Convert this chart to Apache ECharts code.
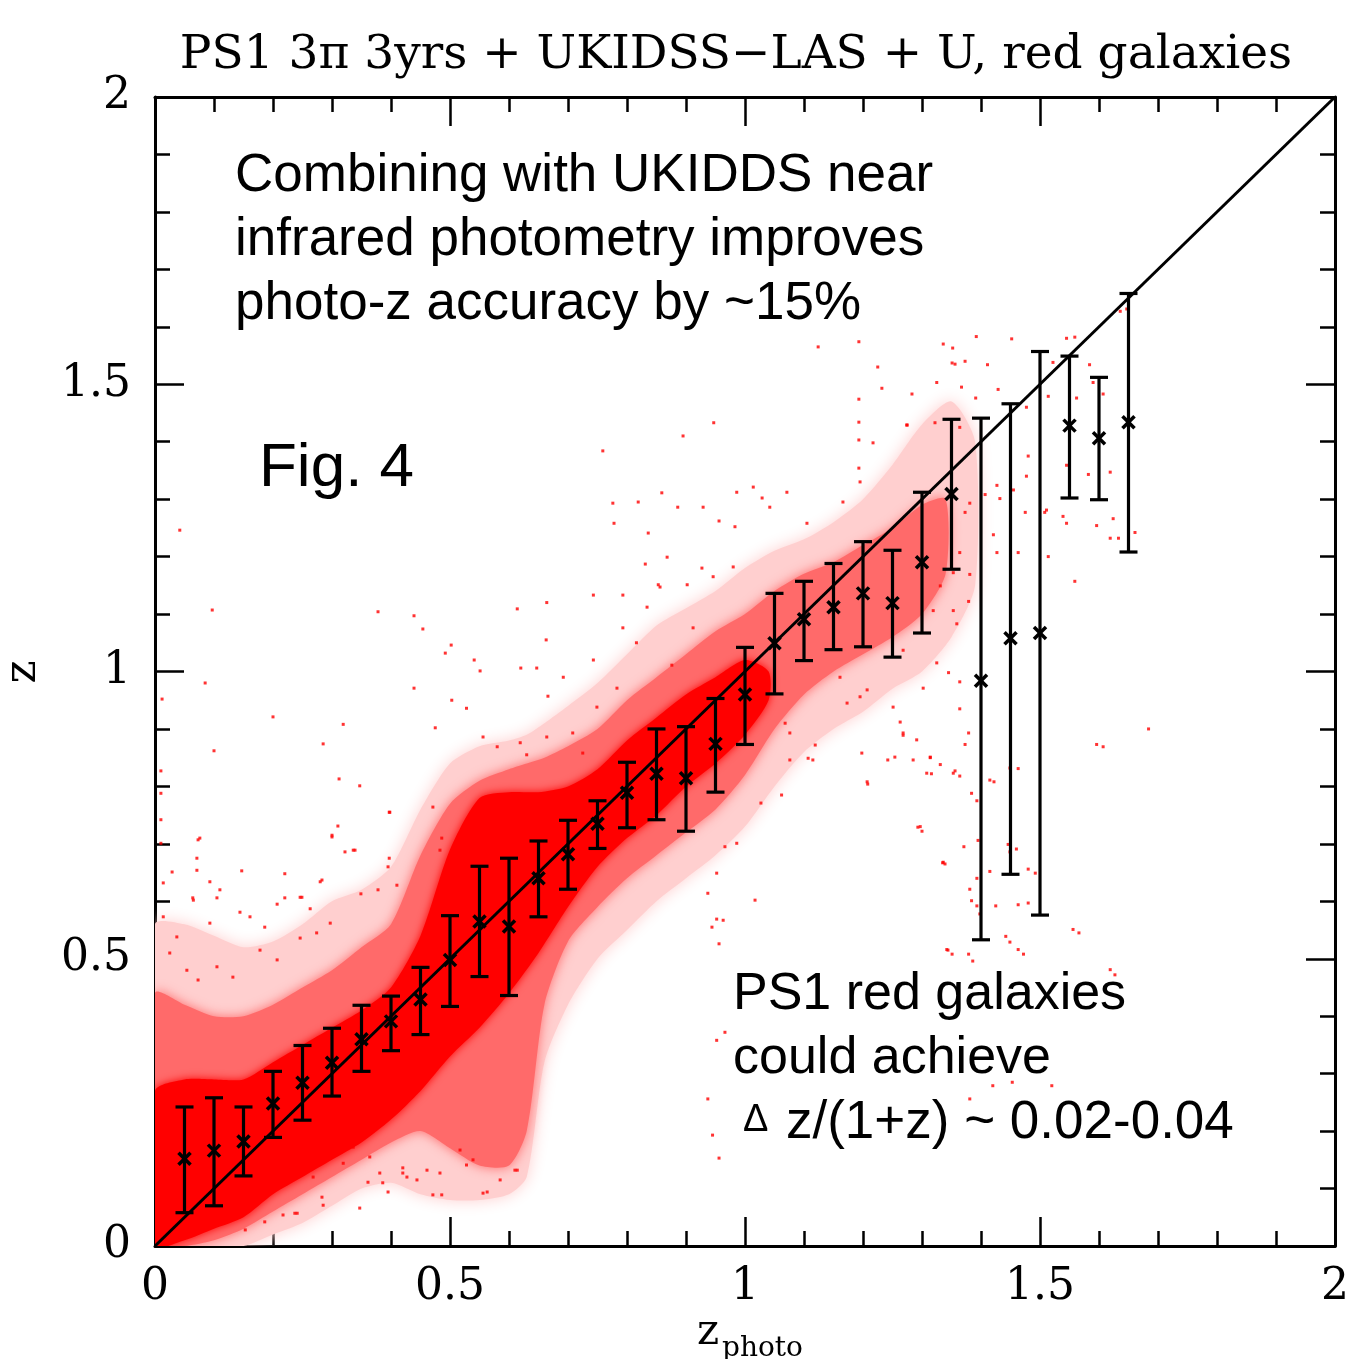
<!DOCTYPE html>
<html><head><meta charset="utf-8">
<script src="https://cdn.jsdelivr.net/npm/echarts@6/dist/echarts.min.js"></script>
<style>html,body{margin:0;padding:0;background:#fff}#c{width:1348px;height:1359px}</style>
</head><body><div id="c"></div>
<script>
// ---- data ----
const tickLabels = ['0', '0.5', '1', '1.5', '2'];

// binned means with error bars
const barX    = [0.05,0.10,0.15,0.20,0.25,0.30,0.35,0.40,0.45,0.50,0.55,0.60,0.65,0.70,0.75,0.80,0.85,0.90,0.95,1.00,1.05,1.10,1.15,1.20,1.25,1.30,1.35,1.40,1.45,1.50,1.55,1.60,1.65];
const barMean = [0.152,0.166,0.182,0.248,0.284,0.319,0.360,0.391,0.429,0.498,0.565,0.556,0.640,0.682,0.735,0.789,0.822,0.814,0.874,0.960,1.049,1.091,1.112,1.136,1.119,1.190,1.309,0.984,1.058,1.067,1.428,1.406,1.434];
const barLo   = [0.058,0.070,0.122,0.189,0.219,0.261,0.304,0.340,0.368,0.417,0.469,0.436,0.573,0.621,0.692,0.728,0.742,0.722,0.790,0.873,0.961,1.019,1.038,1.043,1.025,1.067,1.178,0.533,0.647,0.576,1.302,1.299,1.208];
const barHi   = [0.242,0.258,0.242,0.304,0.349,0.379,0.419,0.435,0.485,0.575,0.661,0.675,0.705,0.741,0.775,0.842,0.900,0.904,0.953,1.042,1.136,1.157,1.188,1.226,1.211,1.312,1.439,1.441,1.466,1.557,1.549,1.512,1.658];

// one-to-one line
const diagonal = [[0, 0], [2, 2]];

// density envelopes of the point cloud (sparse halo, medium, dense core)
const haloX  = [0,0.05,0.10,0.15,0.20,0.25,0.30,0.35,0.40,0.45,0.50,0.55,0.60,0.63,0.66,0.70,0.75,0.80,0.85,0.90,0.95,1.00,1.05,1.10,1.15,1.20,1.25,1.30,1.35,1.39];
const haloLo = [0,0,0,0,0.02,0.04,0.07,0.10,0.11,0.09,0.08,0.08,0.09,0.12,0.32,0.42,0.50,0.55,0.60,0.64,0.68,0.73,0.80,0.86,0.90,0.93,0.97,1.00,1.06,1.15];
const haloHi = [0.56,0.56,0.54,0.52,0.53,0.56,0.60,0.62,0.66,0.76,0.84,0.87,0.88,0.89,0.91,0.94,0.98,1.03,1.08,1.11,1.14,1.18,1.21,1.23,1.26,1.30,1.36,1.43,1.47,1.40];

const midX  = [0,0.05,0.10,0.15,0.20,0.25,0.30,0.35,0.40,0.45,0.50,0.55,0.60,0.63,0.66,0.70,0.75,0.80,0.85,0.90,0.95,1.00,1.05,1.10,1.15,1.20,1.25,1.30,1.34];
const midLo = [0,0,0.01,0.03,0.06,0.09,0.12,0.15,0.18,0.20,0.17,0.14,0.14,0.20,0.42,0.53,0.59,0.64,0.68,0.72,0.76,0.82,0.90,0.96,1.00,1.03,1.06,1.10,1.17];
const midHi = [0.44,0.42,0.40,0.40,0.42,0.45,0.48,0.52,0.56,0.68,0.77,0.81,0.83,0.84,0.85,0.87,0.90,0.95,0.99,1.03,1.07,1.10,1.14,1.17,1.19,1.22,1.25,1.29,1.30];

const coreX  = [0,0.05,0.10,0.15,0.20,0.25,0.30,0.35,0.40,0.45,0.50,0.55,0.60,0.65,0.70,0.75,0.80,0.85,0.90,0.95,1.00,1.04];
const coreLo = [0,0.01,0.03,0.05,0.09,0.12,0.15,0.18,0.22,0.27,0.33,0.38,0.44,0.51,0.59,0.66,0.71,0.75,0.80,0.84,0.89,0.95];
const coreHi = [0.27,0.29,0.29,0.29,0.32,0.35,0.38,0.41,0.45,0.54,0.69,0.78,0.79,0.79,0.80,0.83,0.88,0.92,0.96,0.99,1.02,1.00];

// individual scattered galaxies outside the dense cloud [z_photo, z]
const outliers = [
[0.097,1.107],[0.085,0.98],[0.012,0.952],[0.2,0.921],[0.319,0.908],[0.1,0.862],[0.285,0.874],[0.378,1.104],[0.439,1.097],[0.454,1.074],
[0.439,0.971],[0.614,1.109],[0.664,1.12],[0.502,1.046],[0.492,1.032],[0.541,1.02],[0.551,1.001],[0.62,1.006],[0.647,1.006],[0.663,1.055],
[0.666,0.957],[0.312,0.813],[0.347,0.801],[0.3,0.712],[0.31,0.731],[0.339,0.689],[0.397,0.755],[0.397,0.675],[0.073,0.707],[0.071,0.675],
[0.071,0.654],[0.029,0.651],[0.01,0.827],[0.01,0.788],[0.01,0.742],[0.01,0.701],[0.147,0.653],[0.22,0.648],[0.093,0.634],[0.28,0.634],
[0.246,0.607],[0.263,0.587],[0.207,0.595],[0.144,0.581],[0.065,0.602],[0.105,0.606],[0.475,0.902],[0.503,0.95],[0.528,0.936],[0.556,0.886],
[0.58,0.869],[0.619,0.876],[0.63,0.855],[0.664,0.886],[0.471,0.764],[0.486,0.71],[0.483,0.689],[0.378,0.62],[0.41,0.628],[0.349,0.613],
[0.395,0.66],[0.042,1.246],
[0.692,0.99],[0.743,1.02],[0.793,1.076],[0.816,1.05],[0.831,1.187],[0.902,1.151],[0.853,1.151],[0.946,1.165],[0.98,1.182],[0.912,1.076],
[0.876,1.011],[0.783,0.971],[0.749,0.938],[0.708,0.893],[0.725,0.858],[1.068,0.91],[1.119,0.872],[1.198,0.858],[1.242,0.846],[1.314,0.851],
[1.353,0.823],[1.293,0.729],[1.336,0.668],[1.344,0.515],[0.986,0.701],[1.017,0.602],[1.207,0.808],[1.173,0.945],[1.251,0.938],[1.268,0.893],
[1.115,0.846],[1.076,0.893],[0.992,0.91],[0.963,0.567],[0.944,0.555],
[1.607,0.869],[1.566,0.545],[1.351,0.508],[1.386,0.496],[1.627,0.472],[1.449,0.529],[1.472,0.508],[1.393,0.592],[1.425,0.592],[1.492,0.649],
[1.449,0.686],[1.371,0.695],[1.339,0.665],[1.3,0.722],[1.422,0.808],[1.449,0.832],[1.393,0.775],[1.364,0.818],[1.316,0.822],[1.254,0.851],
[1.208,0.804],[1.062,0.785],[1.027,0.771],[0.966,0.695],[0.952,0.649],[0.952,0.569],[0.937,0.614],[0.956,0.526],[0.966,0.372],[0.952,0.358],
[0.956,0.153],[0.937,0.256],[0.945,0.193],[1.381,0.256],[1.453,0.285],[1.42,0.279],[1.52,0.279],
[1.336,1.570],[1.352,1.563],[1.392,1.583],[1.452,1.579],[1.411,1.534],[1.356,1.535],[1.373,1.540],[1.283,1.483],[1.325,1.503],[1.367,1.495],
[1.391,1.476],[1.429,1.491],[1.274,1.429],[1.322,1.433],[1.364,1.425],[1.545,1.580],[1.559,1.582],[1.522,1.538],[1.584,1.534],[1.590,1.503],
[1.607,1.483],[1.562,1.476],[1.545,1.359],[1.582,1.343],[1.619,1.347],[1.636,1.627],[1.647,1.631],[1.539,1.270],[1.545,1.258],[1.596,1.254],
[1.624,1.266],[1.619,1.232],[1.633,1.232],[1.661,1.242],[1.559,1.157],[1.511,1.281],[1.514,1.479],[1.477,1.460],[1.480,1.375],[1.475,1.277],
[1.463,1.207],[1.455,1.316],[1.432,1.301],[1.427,1.324],[1.407,1.308],[1.421,1.238],[1.381,1.293],[1.373,1.277],[1.364,1.207],[1.353,1.172],
[1.381,1.169],[1.379,1.122],[1.353,1.106],[1.359,1.083],[1.331,1.149],[1.319,1.106],[1.345,0.998],[1.364,0.982],[1.356,0.827],[1.331,0.838],
[1.314,0.850],[1.285,0.846],[1.291,0.881],[1.308,0.823],[1.268,0.889],[1.364,0.935],[1.373,0.873],[1.384,0.788],[1.379,0.893],[1.415,0.811],
[1.393,0.640],[1.415,0.652],[1.395,0.706],[1.384,0.601],[1.381,0.621],[1.398,0.578],[1.427,1.207],[1.477,1.340],[1.463,0.831],[1.446,0.699],
[1.460,0.691],[1.480,0.656],[1.463,0.594],[1.480,0.597],[1.442,0.539],[1.463,0.516],[1.508,1.277],[1.514,1.200],[1.556,0.551],[1.684,0.900],
[1.596,0.873],[1.619,0.481],[1.342,0.516],[1.335,0.667],[1.297,0.730],[1.379,0.508],
[0.076,0.71],[0.064,0.606],[0.161,0.573],[0.11,0.62],[0.093,0.562],[0.3,0.715],[0.249,0.607],[0.283,0.637],[0.22,0.606],[0.322,0.686],
[0.336,0.689],[0.398,0.755],[0.186,0.555],[0.014,0.632],[0.014,0.573],[0.037,0.538],[0.025,0.51],[0.054,0.48],[0.073,0.463],[0.105,0.486],
[0.132,0.468],[0.178,0.515],[0.207,0.498],[0.246,0.536],[0.274,0.545],[0.297,0.562],
[0.471,0.089],[0.483,0.127],[0.556,0.092],[0.614,0.132],[0.585,0.115],[0.285,0.071],[0.241,0.057],[0.217,0.054],[0.347,0.066],[0.386,0.11],
[0.42,0.127],[0.444,0.115],[0.364,0.155],[0.319,0.144],[0.237,0.057],[0.186,0.042],[0.153,0.028],[0.268,0.12],[0.283,0.085],[0.361,0.111],
[0.395,0.094],[0.486,0.089],[0.42,0.136],[0.461,0.132],[0.563,0.094],[0.61,0.132],[0.528,0.141],[0.539,0.15],[0.427,0.12],[0.381,0.127],
[0.336,0.172],[0.314,0.185],[0.517,0.167],
[1.193,1.574],[1.124,1.565],[1.225,1.53],[1.232,1.493],[1.351,1.537],[1.193,1.474],[1.193,1.434],[1.193,1.403],[1.217,1.398],[1.193,1.354],
[1.195,1.33],[1.275,1.429],[0.759,1.384],[0.947,1.433],[0.895,1.41],[1.071,1.312],[1.014,1.321],[0.986,1.312],[0.859,1.311],[0.819,1.295],
[0.776,1.293],[0.778,1.258],[0.836,1.241],[0.886,1.286],[0.929,1.286],[0.956,1.262],[0.983,1.252],[1.029,1.302],[1.042,1.286],[1.105,1.258],
[1.166,1.295],[0.743,1.133],[0.793,1.133],[0.868,1.199],[0.856,1.147],[0.927,1.18],[0.834,1.112],
[1.161,0.99],[1.207,0.968],[1.268,1.037],[1.325,1.015],[1.302,0.971],[1.195,0.956],[1.263,0.912],[1.107,0.849],[1.076,0.846]
];

// ---- chart ----
const chart = echarts.init(document.getElementById('c'), null, {renderer: 'canvas'});
const SERIF = 'DejaVu Serif';

function axisCommon(showLabel) {
  return {
    type: 'value', min: 0, max: 2, interval: 0.5,
    axisLine: {show: true, onZero: false, lineStyle: {color: '#000', width: 3}},
    axisTick: {show: true, inside: true, length: 29, lineStyle: {color: '#000', width: 2.5}},
    minorTick: {show: true, splitNumber: 5, length: 15, lineStyle: {color: '#000', width: 2.5}},
    splitLine: {show: false},
    axisLabel: {show: showLabel, fontFamily: SERIF, fontSize: 44, color: '#000',
      formatter: v => tickLabels[Math.round(v / 0.5)]}
  };
}

function envelope(xs, lo, hi, color, blur) {
  return {
    type: 'custom', xAxisIndex: 0, yAxisIndex: 0, silent: true, clip: true, z: 1,
    data: [[xs[0], lo[0]]],
    renderItem: (params, api) => {
      const pts = [];
      for (let i = 0; i < xs.length; i++) pts.push(api.coord([xs[i], hi[i]]));
      for (let i = xs.length - 1; i >= 0; i--) pts.push(api.coord([xs[i], lo[i]]));
      return {type: 'polygon', shape: {points: pts, smooth: 0.25}, style: {fill: color, shadowBlur: blur, shadowColor: color}};
    }
  };
}

const xb = Object.assign(axisCommon(true), {position: 'bottom'});
xb.axisLabel.margin = 20;
const xt = Object.assign(axisCommon(false), {position: 'top'});
const yl = Object.assign(axisCommon(true), {position: 'left'});
yl.axisLabel.margin = 24;
const yr = Object.assign(axisCommon(false), {position: 'right'});

const option = {
  backgroundColor: '#fff',
  animation: false,
  grid: {left: 155, right: 13, top: 97, bottom: 113, containLabel: false, outerBoundsMode: 'none'},
  xAxis: [xb, xt],
  yAxis: [yl, yr],
  series: [
    envelope(haloX, haloLo, haloHi, '#ffcfcf', 16),
    envelope(midX, midLo, midHi, '#ff6a6a', 12),
    envelope(coreX, coreLo, coreHi, '#ff0000', 8),
    {type: 'scatter', xAxisIndex: 0, yAxisIndex: 0, data: outliers, symbol: 'rect', symbolSize: 3,
     itemStyle: {color: '#ff0000'}, silent: true, z: 2},
    {type: 'line', xAxisIndex: 0, yAxisIndex: 0, data: diagonal, symbol: 'none',
     lineStyle: {color: '#000', width: 3}, silent: true, z: 3},
    {type: 'custom', xAxisIndex: 0, yAxisIndex: 0, silent: true, z: 4,
     data: barX.map((x, i) => [x, barMean[i], barLo[i], barHi[i]]),
     renderItem: (params, api) => {
       const m = api.coord([api.value(0), api.value(1)]);
       const lo = api.coord([api.value(0), api.value(2)]);
       const hi = api.coord([api.value(0), api.value(3)]);
       const cw = 9, cs = 6;
       const st = {stroke: '#000', lineWidth: 3.2};
       const sm = {stroke: '#000', lineWidth: 3.5};
       return {type: 'group', children: [
         {type: 'line', shape: {x1: lo[0], y1: lo[1], x2: hi[0], y2: hi[1]}, style: st},
         {type: 'line', shape: {x1: lo[0] - cw, y1: lo[1], x2: lo[0] + cw, y2: lo[1]}, style: st},
         {type: 'line', shape: {x1: hi[0] - cw, y1: hi[1], x2: hi[0] + cw, y2: hi[1]}, style: st},
         {type: 'line', shape: {x1: m[0] - cs, y1: m[1] - cs, x2: m[0] + cs, y2: m[1] + cs}, style: sm},
         {type: 'line', shape: {x1: m[0] - cs, y1: m[1] + cs, x2: m[0] + cs, y2: m[1] - cs}, style: sm}
       ]};
     }}
  ],
  graphic: [
    {type: 'text', x: 736, y: 56, z: 10, style: {text: 'PS1 3\u03c0 3yrs + UKIDSS\u2212LAS + U, red galaxies',
      font: '47px "DejaVu Serif"', fill: '#000', align: 'center', verticalAlign: 'middle'}},
    {type: 'text', x: 24, y: 672, rotation: Math.PI / 2, z: 10, style: {text: 'z',
      font: '44px "DejaVu Serif"', fill: '#000', align: 'center', verticalAlign: 'middle'}},
    {type: 'text', x: 708, y: 1333, z: 10, style: {text: 'z',
      font: '42px "DejaVu Serif"', fill: '#000', align: 'center', verticalAlign: 'middle'}},
    {type: 'text', x: 722, y: 1349, z: 10, style: {text: 'photo',
      font: '28px "DejaVu Serif"', fill: '#000', align: 'left', verticalAlign: 'middle'}},
    {type: 'text', x: 235, y: 144, z: 10, style: {text: 'Combining with UKIDDS near\ninfrared photometry improves\nphoto-z accuracy by ~15%',
      font: '53px "Liberation Sans"', lineHeight: 64, fill: '#000', align: 'left', verticalAlign: 'top'}},
    {type: 'text', x: 259, y: 469, z: 10, style: {text: 'Fig. 4',
      font: '62px "Liberation Sans"', fill: '#000', align: 'left', verticalAlign: 'middle'}},
    {type: 'text', x: 733, y: 963, z: 10, style: {text: 'PS1 red galaxies\ncould achieve',
      font: '52px "Liberation Sans"', lineHeight: 64, fill: '#000', align: 'left', verticalAlign: 'top'}},
    {type: 'text', x: 743, y: 1121, z: 10, style: {text: '\u0394',
      font: '38px "Liberation Sans"', fill: '#000', align: 'left', verticalAlign: 'middle'}},
    {type: 'text', x: 786, y: 1123, z: 10, style: {text: 'z/(1+z) ~ 0.02-0.04',
      font: '53px "Liberation Sans"', fill: '#000', align: 'left', verticalAlign: 'middle'}}
  ]
};
chart.setOption(option);
</script>
</body></html>
